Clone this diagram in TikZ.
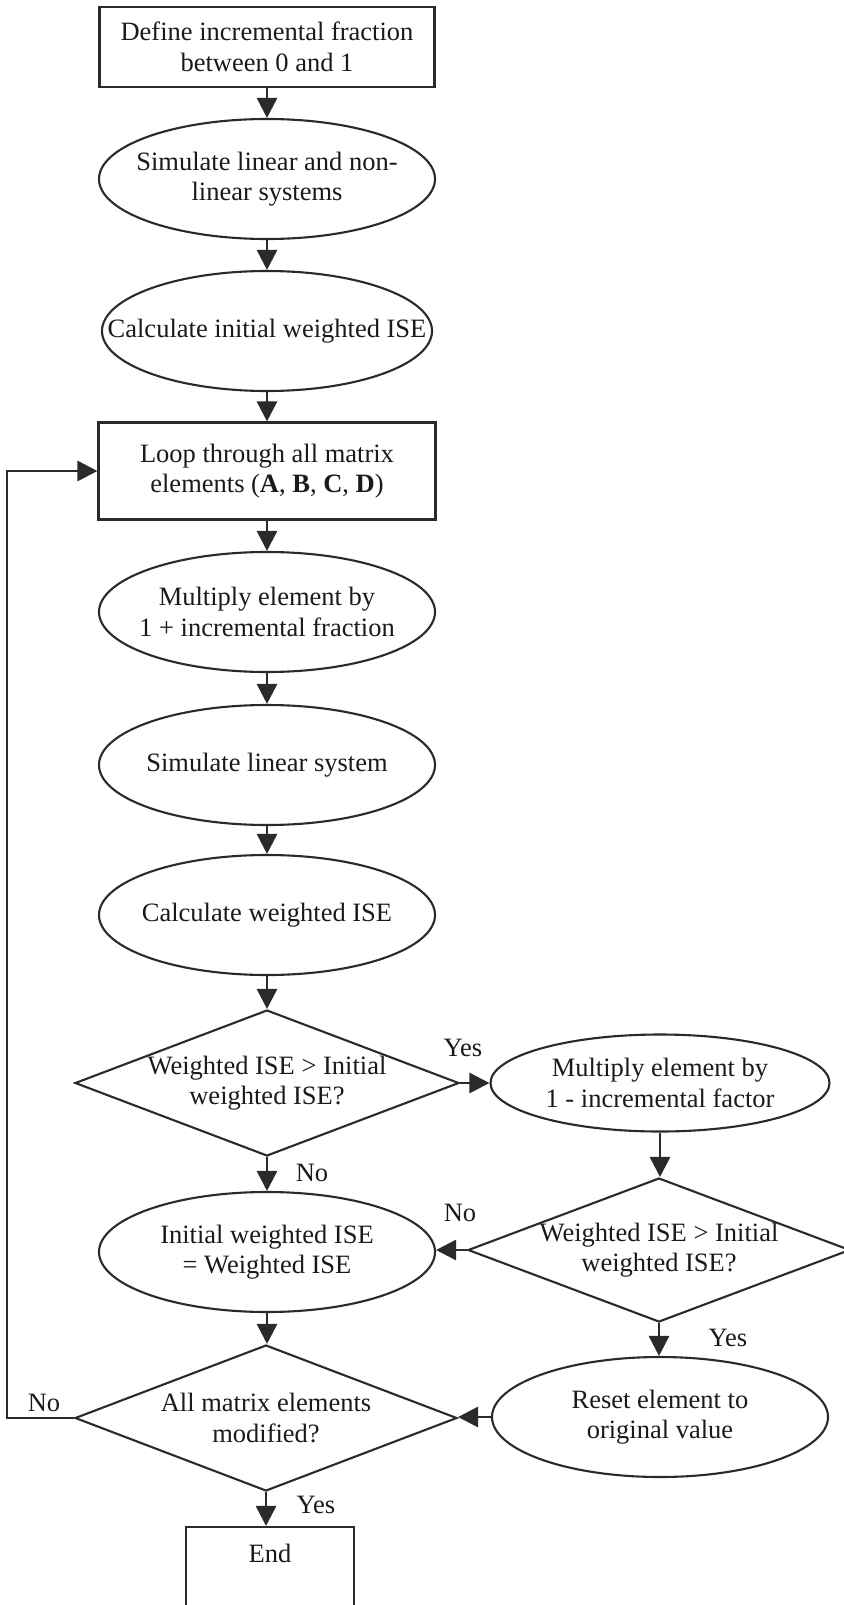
\documentclass[tikz,border=0pt]{standalone}
\usepackage{fontspec}
\setmainfont{Liberation Serif}
\usetikzlibrary{shapes.geometric,arrows.meta}
\definecolor{ink}{HTML}{2A2A2A}
\definecolor{txt}{HTML}{1A1A1A}
\begin{document}
\begin{tikzpicture}[x=0.5pt,y=-0.5pt,
  lw/.style={line width=1.05pt, draw=ink},
  boxn/.style={lw, rectangle, inner sep=0pt, minimum width=#1, minimum height=40pt},
  elln/.style={lw, ellipse, inner sep=0pt, minimum width=168pt, minimum height=60pt},
  diam/.style={lw, diamond, inner sep=0pt, minimum width=192pt, minimum height=73pt},
  label/.style={font=\fontsize{13.25pt}{15.2pt}\selectfont, text=txt, align=center, inner sep=0pt},
  conn/.style={line width=1.35pt, draw=ink, -{Triangle[width=10pt,length=10pt]}}
]
\useasboundingbox (0,0) rectangle (844,1605);
\fill[white] (0,0) rectangle (844,1605);
\clip (0,0) rectangle (844,1605);

% left column
\node[boxn=167.5pt] (start) at (267,47) {};
\node[label] at (start) {Define incremental fraction\\between 0 and 1};

\node[elln] (sim1) at (267,179) {};
\node[label] at (sim1) {Simulate linear and non-\\linear systems};

\node[elln, minimum width=165pt] (calc0) at (267,331) {};
\node[label] at (calc0) {Calculate initial weighted ISE};

\node[boxn=168.5pt, minimum height=48.5pt] (loop) at (267,471) {};
\node[label] at (loop) {Loop through all matrix\\elements (\textbf{A}, \textbf{B}, \textbf{C}, \textbf{D})};

\node[elln] (mult1) at (267,612) {};
\node[label] at (mult1) {Multiply element by\\1 + incremental fraction};

\node[elln] (simlin) at (267,765) {};
\node[label] at (simlin) {Simulate linear system};

\node[elln] (calcw) at (267,915) {};
\node[label] at (calcw) {Calculate weighted ISE};

\node[diam] (dec1) at (267,1083) {};
\node[label] at (dec1) {Weighted ISE > Initial\\weighted ISE?};

\node[elln] (init) at (267,1252) {};
\node[label] at (init) {Initial weighted ISE\\= Weighted ISE};

\node[diam, minimum width=191pt] (dec3) at (266,1418) {};
\node[label] at (dec3) {All matrix elements\\modified?};

\node[boxn=84pt] (end) at (270,1567) {};
\node[label] at (270,1553) {End};

% right column
\node[elln, minimum width=169.5pt, minimum height=48.5pt] (mult2) at (660,1083) {};
\node[label] at (mult2) {Multiply element by\\1 - incremental factor};

\node[diam, minimum width=191pt, minimum height=72pt] (dec2) at (659,1250) {};
\node[label] at (dec2) {Weighted ISE > Initial\\weighted ISE?};

\node[elln] (reset) at (660,1417) {};
\node[label] at (reset) {Reset element to\\original value};

% branch labels
\node[label] (yes1) at (463,1048) {Yes};
\node[label] (no1) at (312,1173) {No};
\node[label] (no2) at (460,1213) {No};
\node[label] (yes2) at (728,1338) {Yes};
\node[label] (yes3) at (316,1505) {Yes};
\node[label] (no3) at (44,1403) {No};

% connectors
\draw[conn] (start) -- (sim1);
\draw[conn] (sim1) -- (calc0);
\draw[conn] (calc0) -- (loop);
\draw[conn] (loop) -- (mult1);
\draw[conn] (mult1) -- (simlin);
\draw[conn] (simlin) -- (calcw);
\draw[conn] (calcw.south) -- (calcw.south |- dec1.north);
\draw[conn] (dec1.east) -- (mult2.west |- dec1.east);
\draw[conn] (dec1.south) -- (dec1.south |- init.north);
\draw[conn] (mult2.south) -- (mult2.south |- dec2.north);
\draw[conn] (dec2.west) -- (init.east |- dec2.west);
\draw[conn] (dec2.south) -- (dec2.south |- reset.north);
\draw[conn] (init.south) -- (init.south |- dec3.north);
\draw[conn] (reset.west) -- (dec3.east |- reset.west);
\draw[conn] (dec3.south) -- (dec3.south |- end.north);
\coordinate (lc) at (7,1418);
\draw[conn] (dec3.west) -- (lc) |- (loop.west);
\end{tikzpicture}
\end{document}
